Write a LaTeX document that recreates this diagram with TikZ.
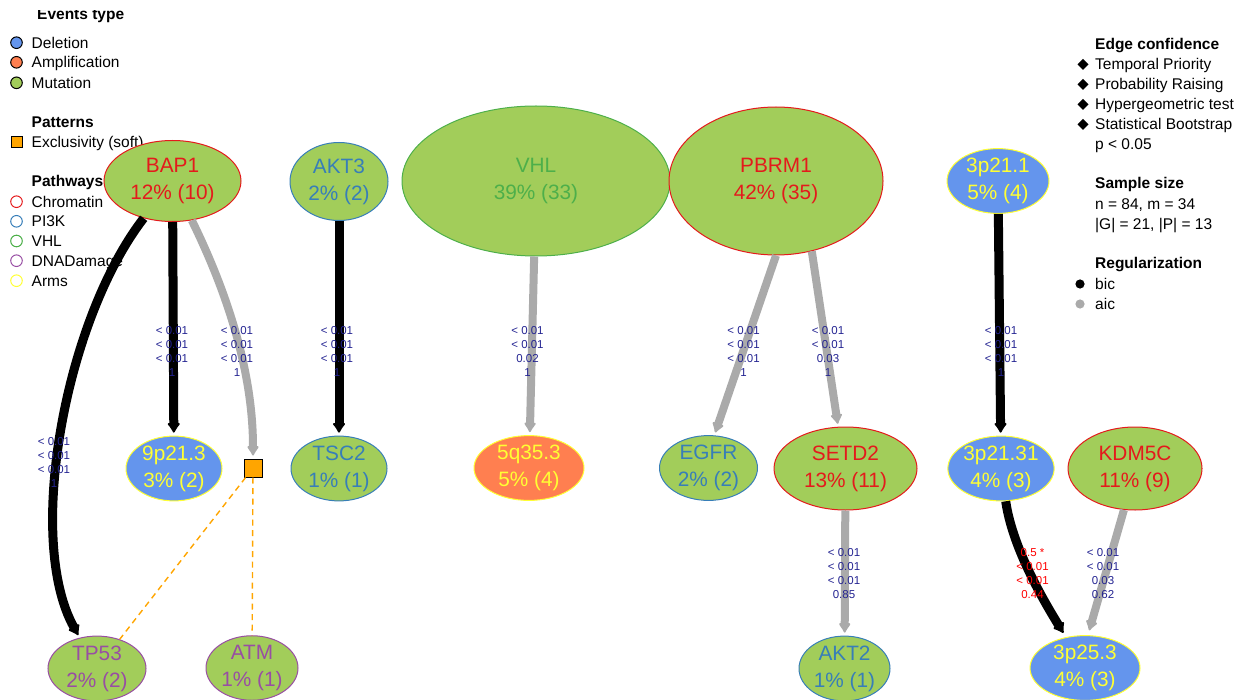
\documentclass[tikz,border=0pt]{standalone}
\usepackage{fontspec}
\setmainfont{Liberation Sans}
\usetikzlibrary{shapes.geometric,arrows.meta,calc}

% event types (fill) and pathways (border / text)
\definecolor{mutfill}{RGB}{162,205,90}
\definecolor{delfill}{RGB}{100,149,237}
\definecolor{ampfill}{RGB}{255,127,80}
\definecolor{chrom}{RGB}{228,26,28}
\definecolor{pik}{RGB}{55,126,184}
\definecolor{vhlc}{RGB}{77,175,74}
\definecolor{dnad}{RGB}{152,78,163}
\definecolor{arms}{RGB}{255,255,51}
\definecolor{lbl}{RGB}{35,35,145}
\definecolor{edgegrey}{RGB}{170,170,170}
\definecolor{excl}{RGB}{255,165,0}

\tikzset{
  ev/.style={ellipse, inner sep=0pt, line width=1pt, align=center,
             font=\fontsize{20.8}{27}\selectfont},
  mut/.style={ev, fill=mutfill},
  del/.style={ev, fill=delfill},
  amp/.style={ev, fill=ampfill},
  chromatin/.style={draw=chrom, text=chrom},
  pithreek/.style={draw=pik, text=pik},
  vhlpath/.style={draw=vhlc, text=vhlc},
  dnapath/.style={draw=dnad, text=dnad},
  armpath/.style={draw=arms, text=arms},
  sz/.style 2 args={minimum width=#1pt, minimum height=#2pt},
  bic/.style={line width=9pt, black, -{Latex[length=11pt,width=15pt,round,line width=2pt]}},
  aic/.style={line width=8pt, edgegrey, -{Latex[length=11pt,width=14pt,round,line width=2pt]}},
  exclbox/.style={rectangle, draw=black, line width=1pt, fill=excl,
                  minimum size=18pt, inner sep=0pt},
  exclline/.style={draw=excl, line width=1.4pt, dash pattern=on 6pt off 4.5pt},
  elabel/.style={font=\fontsize{11.5}{13.7}\selectfont, text=lbl, align=center, inner sep=0pt},
  rlabel/.style={elabel, text=red},
  legtxt/.style={font=\fontsize{15.5}{18}\selectfont, anchor=base west, inner sep=0pt},
  legtitle/.style={legtxt, font=\fontsize{15.5}{18}\selectfont\bfseries},
}

\begin{document}
\begin{tikzpicture}[x=1pt, y=-1pt]
\useasboundingbox (0,0) rectangle (1246,700);

% ---------- left legend ----------
\begin{scope}
  \clip (0,10.8) rectangle (200,40);
  \node[legtitle] (lgev) at (37,19.3) {Events type};
\end{scope}
\foreach \yy/\cc/\tt in {42.7/delfill/Deletion, 62.3/ampfill/Amplification, 82.8/mutfill/Mutation}{
  \filldraw[fill=\cc, draw=black, line width=1pt] (16.5,\yy) circle (5.8pt);
  \node[legtxt] at (31.5,\yy+5.6) {\tt};
}
\node[legtitle] (lgpat) at (31.5,128) {Patterns};
\node[exclbox, minimum size=11pt, line width=1pt] (lgexcl) at (16.5,141.7) {};
\node[legtxt] at (31.5,147.3) {Exclusivity (soft)};
\node[legtitle] (lgpw) at (31.5,187) {Pathways};
\foreach \yy/\cc/\tt in {201.7/chrom/Chromatin, 221.3/pik/PI3K, 241/vhlc/VHL, 260.7/dnad/DNADamage, 280.7/arms/Arms}{
  \draw[draw=\cc, line width=1pt] (16.5,\yy) circle (5.8pt);
  \node[legtxt] at (31.5,\yy+5.6) {\tt};
}

% ---------- right legend ----------
\node[legtitle] (lgedge) at (1095,49.5) {Edge confidence};
\foreach \yy/\tt in {64.3/Temporal Priority, 84.3/Probability Raising, 104.3/Hypergeometric test, 124.3/Statistical Bootstrap}{
  \fill[black] (1083,\yy-5.5) -- (1088.5,\yy) -- (1083,\yy+5.5) -- (1077.5,\yy) -- cycle;
  \node[legtxt] at (1095,\yy+5.6) {\tt};
}
\node[legtxt] at (1095,149.8) {p < 0.05};
\node[legtitle] (lgsample) at (1095,189) {Sample size};
\node[legtxt] at (1095,209.5) {n = 84, m = 34};
\node[legtxt] at (1095,229.5) {|G| = 21, |P| = 13};
\node[legtitle] (lgreg) at (1095,268.5) {Regularization};
\fill[black] (1080,284) circle (4.6pt);
\node[legtxt] at (1095,289.6) {bic};
\fill[edgegrey] (1080,304) circle (4.6pt);
\node[legtxt] at (1095,309.6) {aic};

% ---------- events ----------
\node[mut, chromatin, sz={137}{81}]  (BAP1)  at (172.5,181)  {BAP1\\12\% (10)};
\node[mut, pithreek, sz={98}{78}]    (AKT3)  at (339,181.5)  {AKT3\\2\% (2)};
\node[mut, vhlpath, sz={268}{150}]   (VHL)   at (536,181)    {VHL\\39\% (33)};
\node[mut, chromatin, sz={214}{148}] (PBRM1) at (776,181)    {PBRM1\\42\% (35)};
\node[del, armpath, sz={102}{64}]    (Pa)    at (998,181)    {3p21.1\\5\% (4)};

\node[del, armpath, sz={96}{58}]     (Pb)    at (174,468.5)  {9p21.3\\3\% (2)};
\node[exclbox]                       (EX)    at (253,468)    {};
\node[mut, pithreek, sz={96}{58}]    (TSC2)  at (339,468.5)  {TSC2\\1\% (1)};
\node[amp, armpath, sz={110}{56}]    (Pc)    at (529,468)    {5q35.3\\5\% (4)};
\node[mut, pithreek, sz={98}{56}]    (EGFR)  at (708.5,468)  {EGFR\\2\% (2)};
\node[mut, chromatin, sz={143}{83}]  (SETD2) at (845.5,468.5) {SETD2\\13\% (11)};
\node[del, armpath, sz={100}{58}]    (Pd)    at (1001,468.5) {3p21.31\\4\% (3)};
\node[mut, chromatin, sz={134}{83}]  (KDM5C) at (1135,468.5) {KDM5C\\11\% (9)};

\node[mut, dnapath, sz={98}{58}]     (TP53)  at (97,668.5)   {TP53\\2\% (2)};
\node[mut, dnapath, sz={92}{56}]     (ATM)   at (252,668)    {ATM\\1\% (1)};
\node[mut, pithreek, sz={91}{58}]    (AKT2)  at (844.5,668.5) {AKT2\\1\% (1)};
\node[del, armpath, sz={110}{61}]    (Pe)    at (1085,668)   {3p25.3\\4\% (3)};

% ---------- exclusivity pattern ----------
\draw[exclline] (EX) -- (TP53);
\draw[exclline] (EX) -- (ATM);

% ---------- selected edges ----------
\draw[bic, shorten >=3pt] (BAP1) .. controls (65,320) and (25,540) .. (TP53);
\draw[bic, shorten >=3pt] (BAP1) -- (Pb);
\draw[aic, shorten >=3pt] (BAP1) .. controls (226,290) and (253,370) .. (EX);
\draw[bic, shorten >=3pt] (AKT3) -- (TSC2);
\draw[aic, shorten >=3pt] (VHL) -- (Pc);
\draw[aic, shorten >=3pt] (PBRM1.south) -- (EGFR.80);
\draw[aic, shorten >=3pt] (PBRM1.297) -- (SETD2.100);
\draw[bic, shorten >=3pt] (Pa) -- (Pd);
\draw[aic, shorten >=3pt] (SETD2) -- (AKT2);
\draw[bic, shorten >=5pt] (Pd) .. controls (1012,545) and (1040,595) .. (Pe);
\draw[aic, shorten >=5pt] (KDM5C.255) -- (Pe.85);

% ---------- edge confidence values ----------
\node[elabel] (lTP53)  at (54,462.5)   {< 0.01\\< 0.01\\< 0.01\\1};
\node[elabel] (l9p)    at (172,351.5)  {< 0.01\\< 0.01\\< 0.01\\1};
\node[elabel] (lEX)    at (237,351.5)  {< 0.01\\< 0.01\\< 0.01\\1};
\node[elabel] (lTSC2)  at (337,351.5)  {< 0.01\\< 0.01\\< 0.01\\1};
\node[elabel] (l5q)    at (527.5,351.5) {< 0.01\\< 0.01\\0.02\\1};
\node[elabel] (lEGFR)  at (743.5,351.5) {< 0.01\\< 0.01\\< 0.01\\1};
\node[elabel] (lSETD2) at (828,351.5)  {< 0.01\\< 0.01\\0.03\\1};
\node[elabel] (l3p)    at (1001,351.5) {< 0.01\\< 0.01\\< 0.01\\1};
\node[elabel] (lAKT2)  at (844,573.5)  {< 0.01\\< 0.01\\< 0.01\\0.85};
\node[rlabel] (l3pe)   at (1032.5,573.5) {0.5 *\\< 0.01\\< 0.01\\0.44};
\node[elabel] (lKDM)   at (1103,573.5) {< 0.01\\< 0.01\\0.03\\0.62};
\end{tikzpicture}
\end{document}
